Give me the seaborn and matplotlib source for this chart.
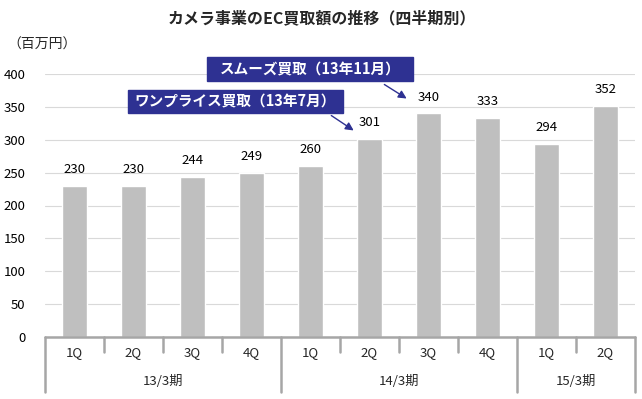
import matplotlib
matplotlib.use("Agg")
import matplotlib.pyplot as plt
from matplotlib.patches import Rectangle
import seaborn as sns
import pandas as pd

quarters = ["1Q", "2Q", "3Q", "4Q", "1Q", "2Q", "3Q", "4Q", "1Q", "2Q"]
values = [230, 230, 244, 249, 260, 301, 340, 333, 294, 352]
years = ["13/3期", "14/3期", "15/3期"]
year_counts = [4, 4, 2]
title = "カメラ事業のEC買取額の推移（四半期別）"
unit = "（百万円）"
yticks = [0, 50, 100, 150, 200, 250, 300, 350, 400]

sns.set_theme(style="white")
plt.rcParams["font.family"] = ["Noto Sans CJK JP", "DejaVu Sans"]

df = pd.DataFrame({"pos": list(range(len(values))), "value": values})

fig = plt.figure(figsize=(6.42, 3.99), dpi=100)
W, H = 642, 399
L, R, T, B = 45, 635, 74, 337
ax = fig.add_axes([L / W, 1 - B / H, (R - L) / W, (B - T) / H])

sns.barplot(data=df, x="pos", y="value", color="#BFBFBF", width=0.44,
            saturation=1, ax=ax, zorder=2)
ax.set_xlim(-0.5, len(values) - 0.5)
ax.set_ylim(0, 400)
ax.set_yticks(yticks)
ax.set_yticklabels([str(v) for v in yticks], fontsize=9.5, color="#000000")
ax.tick_params(axis="y", length=0, pad=14)
ax.set_xticks([])
ax.set_xlabel("")
ax.set_ylabel("")
for s in ax.spines.values():
    s.set_visible(False)
ax.yaxis.grid(True, color="#D9D9D9", linewidth=0.8, zorder=0)
ax.set_axisbelow(True)

for i, v in enumerate(values):
    ax.text(i, v + 15, str(v), ha="center", va="bottom", fontsize=9.5, color="#000000")

# category axis
tr = ax.get_xaxis_transform()
gc = "#A6A6A6"
ax.plot([-0.5, len(values) - 0.5], [0, 0], transform=tr, color=gc, lw=1.8, clip_on=False, zorder=3)
year_bounds = [0]
for c in year_counts:
    year_bounds.append(year_bounds[-1] + c)
for k in range(len(values) + 1):
    bottom = -0.209 if k in year_bounds else -0.057
    ax.plot([k - 0.5, k - 0.5], [0, bottom], transform=tr, color=gc, lw=1.8, clip_on=False)
for i, q in enumerate(quarters):
    ax.text(i, -0.06, q, transform=tr, ha="center", va="center", fontsize=9.5)
for j, y in enumerate(years):
    mid = (year_bounds[j] + year_bounds[j + 1]) / 2 - 0.5
    ax.text(mid, -0.17, y, transform=tr, ha="center", va="center", fontsize=9.5)

fig.text(322 / W, 1 - 18 / H, title, ha="center", va="center", fontsize=11.5, fontweight="bold")
fig.text(7 / W, 1 - 45 / H, unit, ha="left", va="center", fontsize=10)

navy = "#2E3192"

def px2d(px, py):
    return (px - L) / 59 - 0.5, (B - py) / (B - T) * 400

def box(x0, x1, y0, y1, label, a0, a1):
    dx0, dy1 = px2d(x0, y0)
    dx1, dy0 = px2d(x1, y1)
    ax.add_patch(Rectangle((dx0, dy0), dx1 - dx0, dy1 - dy0, color=navy, clip_on=False, zorder=5))
    ax.text((dx0 + dx1) / 2, (dy0 + dy1) / 2, label, ha="center", va="center", color="white",
            fontsize=10.5, fontweight="bold", zorder=6)
    ax.annotate("", xy=px2d(*a1), xytext=px2d(*a0),
                arrowprops=dict(arrowstyle="-|>", color=navy, lw=1.0, mutation_scale=12),
                annotation_clip=False, zorder=6)

box(207, 413, 57, 81, "スムーズ買取（13年11月）", (382, 83), (409, 100))
box(128, 343, 90, 113, "ワンプライス買取（13年7月）", (329, 114), (356, 132))

fig.savefig("out.png", dpi=100)
